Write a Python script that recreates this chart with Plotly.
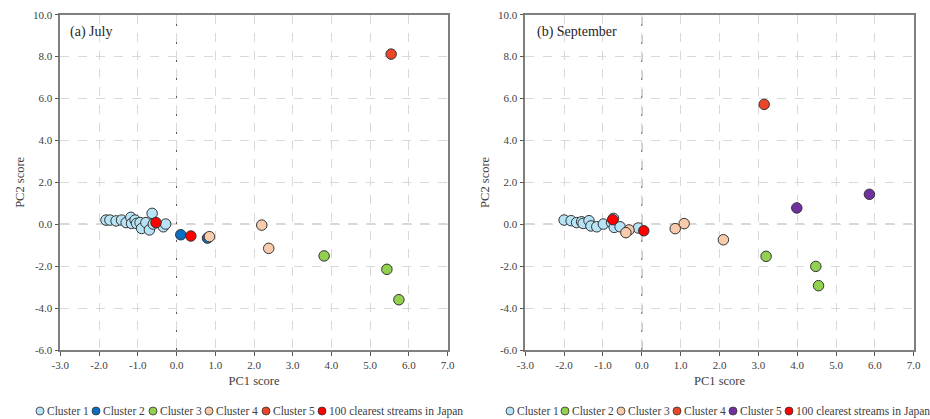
import plotly.graph_objects as go

# ---------------- data ----------------
# (a) July
jul_c1_x = [-1.82, -1.72, -1.56, -1.42, -1.30, -1.18, -1.16, -1.07, -1.03, -0.94, -0.90, -0.79, -0.70, -0.63, -0.60, -0.34, -0.28]
jul_c1_y = [0.20, 0.20, 0.16, 0.20, 0.08, 0.33, 0.04, 0.20, 0.04, 0.08, -0.20, 0.08, -0.27, 0.52, 0.01, -0.12, 0.01]
jul_c2_x = [0.11, 0.80]
jul_c2_y = [-0.50, -0.66]
jul_c3_x = [3.81, 5.43, 5.74]
jul_c3_y = [-1.51, -2.15, -3.60]
jul_c4_x = [2.20, 2.38, 0.85]
jul_c4_y = [-0.04, -1.15, -0.59]
jul_c5_x = [5.54]
jul_c5_y = [8.12]
jul_top_x = [0.37, -0.53]
jul_top_y = [-0.56, 0.08]

# (b) September
sep_c1_x = [-2.00, -1.82, -1.68, -1.55, -1.51, -1.36, -1.31, -1.16, -0.99, -0.78, -0.73, -0.71, -0.56, -0.09]
sep_c1_y = [0.20, 0.17, 0.08, 0.12, 0.04, 0.17, -0.08, -0.12, 0.01, 0.08, 0.28, -0.15, -0.12, -0.18]
sep_c2_x = [3.20, 4.48, 4.55]
sep_c2_y = [-1.53, -2.01, -2.93]
sep_c3_x = [2.10, 1.09, 0.86, -0.33, -0.41]
sep_c3_y = [-0.74, 0.03, -0.21, -0.27, -0.40]
sep_c4_x = [3.15]
sep_c4_y = [5.72]
sep_c5_x = [3.99, 5.86]
sep_c5_y = [0.78, 1.43]
sep_top_x = [0.05, -0.75]
sep_top_y = [-0.31, 0.22]

jul_names = ["Cluster 1", "Cluster 2", "Cluster 3", "Cluster 4", "Cluster 5", "100 clearest streams in Japan"]
sep_names = ["Cluster 1", "Cluster 2", "Cluster 3", "Cluster 4", "Cluster 5", "100 clearest streams in Japan"]

x_ticks = [-3.0, -2.0, -1.0, 0.0, 1.0, 2.0, 3.0, 4.0, 5.0, 6.0, 7.0]
y_ticks = [-6.0, -4.0, -2.0, 0.0, 2.0, 4.0, 6.0, 8.0, 10.0]

# ---------------- styles ----------------
LIGHT = "#b7e3f6"
BLUE = "#0a6fc2"
GREEN = "#92d050"
PEACH = "#f8cbad"
ORANGE = "#ec4528"
PURPLE = "#7030a0"
RED = "#ff0000"
jul_colors = [LIGHT, BLUE, GREEN, PEACH, ORANGE, RED]
sep_colors = [LIGHT, GREEN, PEACH, ORANGE, PURPLE, RED]
FONT = "Liberation Serif, Times New Roman, DejaVu Serif, serif"
EDGE = "#333333"

fig = go.Figure()

jul_series = [(jul_c1_x, jul_c1_y), (jul_c2_x, jul_c2_y), (jul_c3_x, jul_c3_y),
              (jul_c4_x, jul_c4_y), (jul_c5_x, jul_c5_y), (jul_top_x, jul_top_y)]
sep_series = [(sep_c1_x, sep_c1_y), (sep_c2_x, sep_c2_y), (sep_c3_x, sep_c3_y),
              (sep_c4_x, sep_c4_y), (sep_c5_x, sep_c5_y), (sep_top_x, sep_top_y)]

for (xs, ys), name, col in zip(jul_series, jul_names, jul_colors):
    fig.add_trace(go.Scatter(x=xs, y=ys, mode="markers", name=name, showlegend=False,
                             marker=dict(size=10.5, color=col, line=dict(color=EDGE, width=1)),
                             xaxis="x", yaxis="y"))
for (xs, ys), name, col in zip(sep_series, sep_names, sep_colors):
    fig.add_trace(go.Scatter(x=xs, y=ys, mode="markers", name=name, showlegend=False,
                             marker=dict(size=10.5, color=col, line=dict(color=EDGE, width=1)),
                             xaxis="x2", yaxis="y2"))

W, H = 930, 419
def fx(px):
    return px / W
def fy(py):
    return 1 - py / H

ax_common = dict(
    range=[-3, 7], tickvals=x_ticks, ticktext=["%.1f" % v for v in x_ticks],
    showgrid=True, gridcolor="#d9d9d9", griddash="dash", gridwidth=1,
    zeroline=False, showline=True, linecolor="#7f7f7f", linewidth=1.5, mirror=True,
    ticks="outside", ticklen=4, tickcolor="#595959", automargin=False,
    tickfont=dict(family=FONT, size=11, color="#404040"),
    title=dict(text="PC1 score", font=dict(family=FONT, size=12.5, color="#404040"), standoff=6),
)
ay_common = dict(
    range=[-6, 10], tickvals=y_ticks, ticktext=["%.1f" % v for v in y_ticks],
    showgrid=True, gridcolor="#d9d9d9", griddash="dash", gridwidth=1,
    zeroline=False, showline=True, linecolor="#7f7f7f", linewidth=1.5, mirror=True,
    ticks="outside", ticklen=4, tickcolor="#595959", automargin=False,
    tickfont=dict(family=FONT, size=11, color="#404040"),
    title=dict(text="PC2 score", font=dict(family=FONT, size=12.5, color="#404040"), standoff=6),
    domain=[fy(350), fy(14.7)],
)

fig.update_layout(
    width=W, height=H, margin=dict(l=0, r=0, t=0, b=0, autoexpand=False),
    paper_bgcolor="white", plot_bgcolor="white",
    xaxis=dict(ax_common, domain=[fx(60.3), fx(447.7)], anchor="y"),
    yaxis=dict(ay_common, anchor="x"),
    xaxis2=dict(ax_common, domain=[fx(525.3), fx(913.7)], anchor="y2"),
    yaxis2=dict(ay_common, anchor="x2"),
    font=dict(family=FONT, color="#404040"),
)

# dashed zero lines
for xr, yr in [("x", "y"), ("x2", "y2")]:
    fig.add_shape(type="line", xref=xr, yref=yr + " domain", x0=0, x1=0, y0=0, y1=1,
                  line=dict(color="#595959", width=1, dash="dash"), layer="below")
    fig.add_shape(type="line", xref=xr + " domain", yref=yr, x0=0, x1=1, y0=0, y1=0,
                  line=dict(color="#595959", width=1, dash="dash"), layer="below")

# panel labels
fig.add_annotation(text="(a) July", xref="paper", yref="paper", x=fx(68), y=fy(32),
                   xanchor="left", yanchor="middle", showarrow=False,
                   font=dict(family=FONT, size=14, color="#262626"))
fig.add_annotation(text="(b) September", xref="paper", yref="paper", x=fx(535), y=fy(32),
                   xanchor="left", yanchor="middle", showarrow=False,
                   font=dict(family=FONT, size=14, color="#262626"))

# legends (one row under each panel)
leg_left_px = [40, 96, 153, 209, 266, 322]
leg_right_px = [510, 565, 621, 677, 733, 789]
LEG_Y = 411
R = 4
for xs_px, names, cols in [(leg_left_px, jul_names, jul_colors), (leg_right_px, sep_names, sep_colors)]:
    for px, name, col in zip(xs_px, names, cols):
        fig.add_shape(type="circle", xref="paper", yref="paper",
                      x0=fx(px - R), x1=fx(px + R), y0=fy(LEG_Y + R), y1=fy(LEG_Y - R),
                      fillcolor=col, line=dict(color=EDGE, width=0.8))
        fig.add_annotation(text=name, xref="paper", yref="paper", x=fx(px + 5), y=fy(LEG_Y),
                           xanchor="left", yanchor="middle", showarrow=False,
                           font=dict(family=FONT, size=11.5, color="#404040"))

fig.write_html("out.html", config={"displayModeBar": False})

# remove the default page margin so the figure sits at the window's top-left corner
with open("out.html", "r", encoding="utf-8") as f:
    html = f.read()
html = html.replace("<head>", "<head><style>html,body{margin:0;padding:0;overflow:hidden;}</style>", 1)
with open("out.html", "w", encoding="utf-8") as f:
    f.write(html)
